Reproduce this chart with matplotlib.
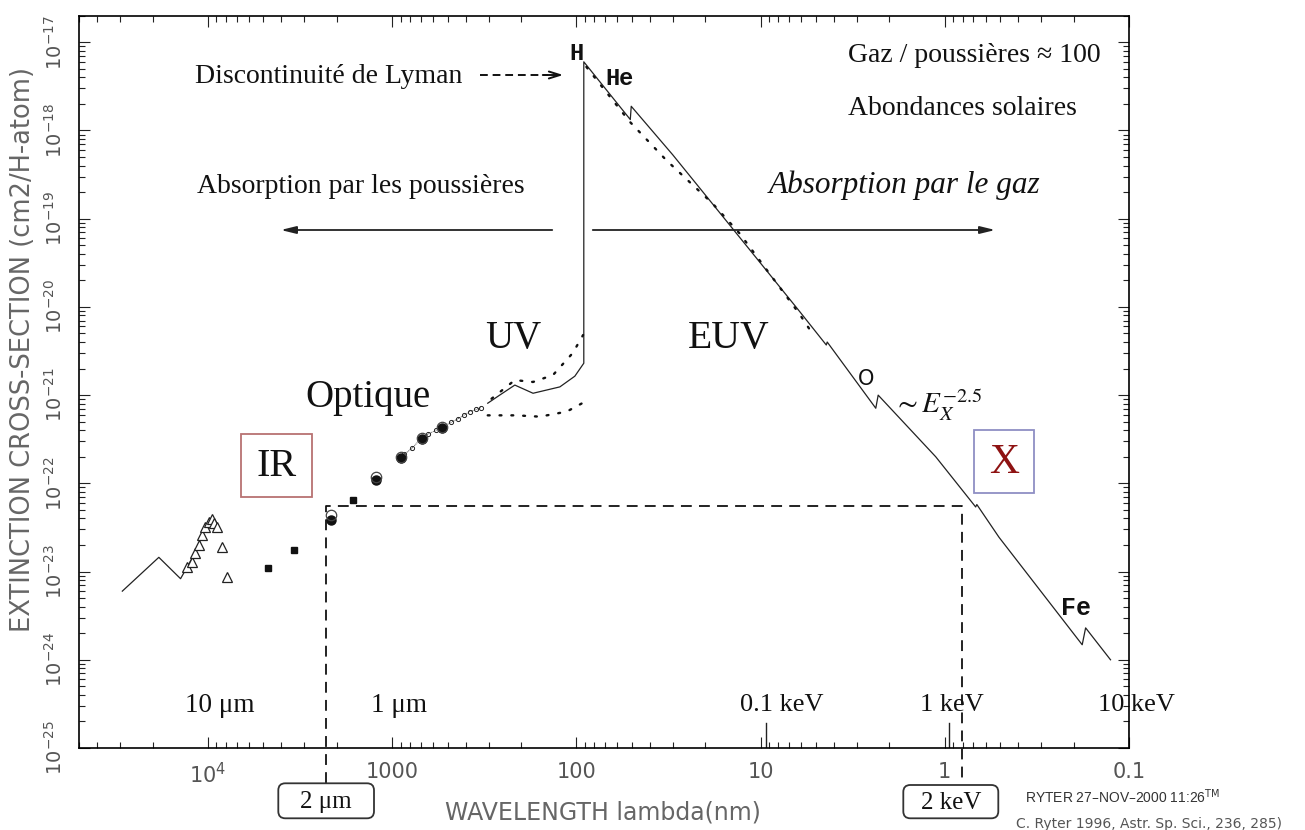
import matplotlib.pyplot as plt
from matplotlib.patches import Rectangle, FancyBboxPatch
from matplotlib.transforms import IdentityTransform
from matplotlib.ticker import LogLocator, NullFormatter

# ---- données (lambda en nm, section efficace en cm2/H) ----
# modèle poussières dans l'IR
ir_wl = [29200, 18500, 14100, 13000, 11700, 10600, 9850]
ir_sig = [6.0e-24, 1.45e-23, 8.3e-24, 1.12e-23, 1.66e-23, 2.8e-23, 3.7e-23]

# triangles : bande des silicates à 10 µm
tri_wl = [13000, 12200, 11700, 11250, 10800, 10350, 9930, 9510, 9250, 8930, 8400, 7890]
tri_sig = [1.13e-23, 1.29e-23, 1.61e-23, 2.0e-23, 2.6e-23, 3.22e-23,
           3.66e-23, 3.9e-23, 3.52e-23, 3.22e-23, 1.88e-23, 8.6e-24]

# carrés pleins
sq_wl = [4730, 3435, 1637]
sq_sig = [1.09e-23, 1.75e-23, 6.45e-23]

# cercles (ouverts / pleins)
circ_wl = [2154, 1231, 893, 692, 539]
circ_open = [4.4e-23, 1.17e-22, 2.0e-22, 3.3e-22, 4.3e-22]
circ_fill = [3.8e-23, 1.1e-22, 1.95e-22, 3.2e-22, 4.2e-22]

# petits points dans le visible
opt_wl = [860, 780, 700, 640, 580, 530, 480, 440, 410, 380, 350, 330]
opt_sig = [2.14e-22, 2.5e-22, 3.2e-22, 3.6e-22, 4.0e-22, 4.4e-22,
           4.9e-22, 5.4e-22, 5.9e-22, 6.5e-22, 6.9e-22, 7.2e-22]

# courbe totale gaz + poussières (UV -> X)
tot_wl = [303, 261, 216, 172, 123, 102, 91.2, 91.2, 51.0, 50.4, 30, 15, 6.2,
          4.4, 4.35, 2.37, 2.3, 1.12, 0.68, 0.67, 0.508, 0.1795, 0.172, 0.126]
tot_sig = [8.1e-22, 1.0e-21, 1.3e-21, 1.05e-21, 1.24e-21, 1.64e-21, 2.3e-21,
           6.0e-18, 1.33e-18, 1.88e-18, 5.3e-19, 8.9e-20, 9.1e-21,
           3.7e-21, 4.0e-21, 7.1e-22, 1.0e-21, 2.0e-22, 5.4e-23, 5.75e-23,
           2.45e-23, 1.48e-24, 2.3e-24, 1.0e-24]

# courbes pointillées
gas_dot_wl = [88.3, 51.4, 32.5, 18.2, 13.0, 6.17, 5.24]
gas_dot_sig = [5.25e-18, 1.26e-18, 4.6e-19, 1.48e-19, 6.8e-20, 8.4e-21, 5.0e-21]
uv_up_wl = [289, 216, 172, 134, 104.7, 92]
uv_up_sig = [9.1e-22, 1.48e-21, 1.41e-21, 1.69e-21, 3.0e-21, 4.8e-21]
uv_lo_wl = [303, 212, 158, 113, 92]
uv_lo_sig = [5.9e-22, 5.9e-22, 5.7e-22, 6.5e-22, 8.2e-22]

# repères 2 µm / 2 keV
mark_wl = [2290, 0.81]
mark_level = 5.5e-23
mark_bottom = 4.0e-26
kev_tick_wl = [9.3, 0.95]

x_ticks = [1e4, 1e3, 100, 10, 1, 0.1]
x_labels = [r'$10^4$', '1000', '100', '10', '1', '0.1']
y_ticks = [1e-25, 1e-24, 1e-23, 1e-22, 1e-21, 1e-20, 1e-19, 1e-18, 1e-17]

W, H = 1305, 830
fig = plt.figure(figsize=(W / 100, H / 100), dpi=100)
ax = fig.add_axes([79.3 / W, 1 - 748 / H, (1129 - 79.3) / W, (748 - 15.7) / H])
px = IdentityTransform()

serif = 'Liberation Serif'
mono = 'Liberation Mono'
grey = '#555555'

ax.set_xscale('log')
ax.set_yscale('log')
ax.set_xlim(5e4, 0.1)
ax.set_ylim(1e-25, 2e-17)

# courbes
ax.plot(ir_wl, ir_sig, color='#222', lw=0.9)
ax.plot(tot_wl, tot_sig, color='#222', lw=0.9)
ax.plot(opt_wl, opt_sig, color='#222', lw=0.6, marker='o', ms=3,
        mfc='none', mew=0.7, linestyle=(0, (1, 1)))
for wl, s in [(gas_dot_wl, gas_dot_sig), (uv_up_wl, uv_up_sig), (uv_lo_wl, uv_lo_sig)]:
    ax.plot(wl, s, color='#111', lw=1.7, linestyle=(0, (0.8, 4.2)),
            dash_capstyle='round')

# symboles
ax.plot(tri_wl, tri_sig, '^', ms=7, mfc='white', mec='#222', mew=0.9, ls='none', zorder=4)
ax.plot(sq_wl, sq_sig, 's', ms=4.5, color='#111', ls='none', zorder=4)
ax.plot(circ_wl, circ_fill, 'o', ms=6.5, color='#111', ls='none', zorder=4)
ax.plot(circ_wl, circ_open, 'o', ms=7.5, mfc='none', mec='#444', mew=0.9, ls='none', zorder=5)

# repères tiretés 2 µm -> 2 keV
ax.plot([mark_wl[0], mark_wl[0], mark_wl[1], mark_wl[1]],
        [mark_bottom, mark_level, mark_level, mark_bottom],
        color='#111', lw=1.3, linestyle=(0, (6, 4)), clip_on=False, zorder=3)

# graduations en énergie
for wl in kev_tick_wl:
    ax.plot([wl, wl], [0, 0.034], color='#222', lw=1.0,
            transform=ax.get_xaxis_transform())
ax.plot([1, 1], [0, 0.034], color='#222', lw=1.0, transform=ax.transAxes)

# axes
for sp in ax.spines.values():
    sp.set_linewidth(1.2)
ax.set_xticks(x_ticks, x_labels)
ax.xaxis.set_minor_locator(LogLocator(base=10, subs=range(2, 10), numticks=40))
ax.xaxis.set_minor_formatter(NullFormatter())
ax.set_yticks(y_ticks)
ax.yaxis.set_minor_locator(LogLocator(base=10, subs=range(2, 10), numticks=40))
ax.yaxis.set_minor_formatter(NullFormatter())
ax.tick_params(which='both', direction='in', top=True, right=True,
               labelsize=15, labelcolor=grey, width=0.8, color='#222')
ax.tick_params(which='major', length=8)
ax.tick_params(which='minor', length=4.5)
ax.tick_params(axis='x', pad=10)
ax.tick_params(axis='y', pad=10, labelrotation=90, labelsize=14)
for lab in ax.get_yticklabels():
    lab.set_verticalalignment('center')

fig.text(23 / W, 1 - 350 / H, 'EXTINCTION CROSS-SECTION (cm2/H-atom)', rotation=90,
         ha='center', va='center', fontsize=18.5, color='#666')
fig.text(603 / W, 1 - 812 / H, 'WAVELENGTH lambda(nm)', ha='center', va='center',
         fontsize=17, color='#666')


def txt(x, y, s, **kw):
    kw.setdefault('family', serif)
    kw.setdefault('color', '#111')
    fig.text(x / W, 1 - y / H, s, **kw)


txt(195, 83, 'Discontinuité de Lyman', fontsize=20)
txt(197, 193, 'Absorption par les poussières', fontsize=20)
txt(1040, 193, 'Absorption par le gaz', fontsize=22.5, style='italic', ha='right')
txt(848, 62, 'Gaz / poussières ≈ 100', fontsize=20)
txt(848, 115, 'Abondances solaires', fontsize=20)
txt(485, 348, 'UV', fontsize=28)
txt(688, 348, 'EUV', fontsize=28.5)
txt(305, 407, 'Optique', fontsize=28)
txt(893, 413, r'$\sim E_X^{-2.5}$', fontsize=21, math_fontfamily='stix')

txt(576.7, 60, 'H', family=mono, weight='bold', fontsize=17, ha='center')
txt(605, 85, 'He', family=mono, weight='bold', fontsize=17)
txt(858, 385, 'O', family='DejaVu Sans', fontsize=15)
txt(1061, 615, 'Fe', family=mono, weight='bold', fontsize=18)

txt(185, 712, '10 μm', fontsize=19.5)
txt(371, 712, '1 μm', fontsize=19.5)
txt(823, 711, '0.1 keV', fontsize=19, ha='right')
txt(920, 711, '1 keV', fontsize=19)
txt(1098, 711, '10 keV', fontsize=19)

# cadres IR et X
ax.add_artist(Rectangle((241, H - 497.3), 70.7, 63.3, transform=px, fill=False,
                        ec='#b87272', lw=1.3, clip_on=False))
txt(276.3, 466, 'IR', fontsize=29, ha='center', va='center')
ax.add_artist(Rectangle((974, H - 493.3), 60, 63.3, transform=px, fill=False,
                        ec='#8f8fc4', lw=1.3, clip_on=False))
txt(1004, 463, 'X', fontsize=30, ha='center', va='center', color='#8e1212')

# cadres arrondis 2 µm / 2 keV
for x0, x1, y0, y1, s in [(278.3, 374, 783.3, 818.3, '2 μm'),
                          (903.3, 998.3, 785, 818.3, '2 keV')]:
    fig.add_artist(FancyBboxPatch((x0, H - y1), x1 - x0, y1 - y0, transform=px,
                                  boxstyle='round,pad=0,rounding_size=7',
                                  fc='white', ec='#333', lw=1.3))
    txt((x0 + x1) / 2, (y0 + y1) / 2 + 1, s, fontsize=18, ha='center', va='center')

# flèches
ax.annotate('', xy=(278, H - 230), xytext=(555, H - 230), xycoords=px, textcoords=px,
            arrowprops=dict(arrowstyle='-|>,head_length=0.9,head_width=0.22',
                            color='#222', lw=1.3), annotation_clip=False)
ax.annotate('', xy=(998, H - 230), xytext=(590, H - 230), xycoords=px, textcoords=px,
            arrowprops=dict(arrowstyle='-|>,head_length=0.9,head_width=0.22',
                            color='#222', lw=1.3), annotation_clip=False)
ax.plot([480, 548], [H - 75, H - 75], transform=px, color='#111', lw=1.4,
        linestyle=(0, (4, 2.5)), clip_on=False)
ax.annotate('', xy=(566, H - 75), xytext=(540, H - 75), xycoords=px, textcoords=px,
            arrowprops=dict(arrowstyle='->,head_length=0.8,head_width=0.25',
                            color='#111', lw=1.4), annotation_clip=False)

# crédits
txt(1025, 803, r'RYTER 27–NOV–2000 11:26$^{\rm TM}$', family=['Liberation Sans Narrow', 'Liberation Sans'],
    fontsize=10, color='#333')
txt(1016, 828, 'C. Ryter 1996, Astr. Sp. Sci., 236, 285)', family='DejaVu Sans',
    fontsize=10, color='#555')

fig.savefig('out.png', dpi=100)
